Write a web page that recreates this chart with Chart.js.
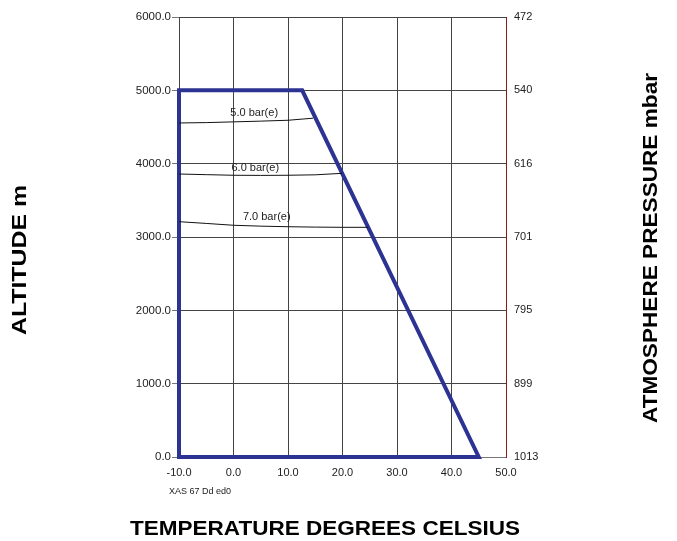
<!DOCTYPE html>
<html>
<head>
<meta charset="utf-8">
<script src="https://cdn.jsdelivr.net/npm/chart.js@4.4.0/dist/chart.umd.min.js"></script>
<style>
html,body{margin:0;padding:0;background:#fff;}
#wrap{width:677px;height:541px;position:relative;}
</style>
</head>
<body>
<div id="wrap"><canvas id="c" width="677" height="541"></canvas></div>
<script>
// ---- data ----
const envelopeTemp = [-10, -10, 12.6, 45, -10];
const envelopeAlt  = [0, 5000, 5000, 0, 0];

const bar5Temp = [-10, -5, 0, 5, 10, 14.6];
const bar5Alt  = [4555, 4560, 4570, 4580, 4592, 4620];
const bar6Temp = [-10, -5, 0, 5, 10, 15, 19.9];
const bar6Alt  = [3859, 3850, 3842, 3840, 3842, 3848, 3868];
const bar7Temp = [-10, -5, 0, 5, 10, 15, 20, 24.7];
const bar7Alt  = [3209, 3185, 3160, 3148, 3140, 3135, 3132, 3132];

const curveNames = ['5.0 bar(e)', '6.0 bar(e)', '7.0 bar(e)'];
const curveLabelTemp = [3.8, 4.0, 6.1];
const curveLabelAlt  = [4687, 3941, 3277];

const xTicks = [-10, 0, 10, 20, 30, 40, 50];
const altTicks = [0, 1000, 2000, 3000, 4000, 5000, 6000];
const pressureLabels = ['1013', '899', '795', '701', '616', '540', '472'];

const xTitle = 'TEMPERATURE DEGREES CELSIUS';
const yTitle = 'ALTITUDE m';
const y2Title = 'ATMOSPHERE PRESSURE mbar';
const footNote = 'XAS 67 Dd ed0';

function pts(xs, ys){ return xs.map((x,i)=>({x:x, y:ys[i]})); }

const FONT = "'Liberation Sans', Arial, sans-serif";

const textPlugin = {
  id: 'texts',
  afterDatasetsDraw(chart){
    const ctx = chart.ctx;
    const xs = chart.scales.x, ys = chart.scales.y;
    ctx.save();
    ctx.font = '11px ' + FONT;
    ctx.fillStyle = '#222';
    ctx.textAlign = 'center';
    ctx.textBaseline = 'middle';
    curveNames.forEach((n,i)=>{
      ctx.fillText(n, xs.getPixelForValue(curveLabelTemp[i]), ys.getPixelForValue(curveLabelAlt[i]));
    });
    ctx.font = '9px ' + FONT;
    ctx.textAlign = 'left';
    ctx.fillStyle = '#222';
    ctx.fillText(footNote, chart.chartArea.left - 10, 492);
    function stretched(txt, cx, cy, rot, targetW){
      ctx.save();
      ctx.translate(cx, cy);
      ctx.rotate(rot);
      ctx.font = 'bold 19.5px ' + FONT;
      const w = ctx.measureText(txt).width;
      ctx.scale(targetW / w, 1);
      ctx.textAlign = 'center';
      ctx.textBaseline = 'middle';
      ctx.fillStyle = '#000';
      ctx.fillText(txt, 0, 0);
      ctx.restore();
    }
    stretched(xTitle, 325, 530, 0, 390);
    stretched(yTitle, 21, 260, -Math.PI/2, 150);
    stretched(y2Title, 652, 248, -Math.PI/2, 350);
    ctx.restore();
  }
};

const thinLine = (data) => ({
  data: data, showLine: true, borderColor: '#111', borderWidth: 1,
  pointRadius: 0, fill: false, tension: 0
});

new Chart(document.getElementById('c'), {
  type: 'scatter',
  data: {
    datasets: [
      thinLine(pts(bar5Temp, bar5Alt)),
      thinLine(pts(bar6Temp, bar6Alt)),
      thinLine(pts(bar7Temp, bar7Alt)),
      {
        data: pts(envelopeTemp, envelopeAlt), showLine: true, clip: false,
        borderColor: '#2c3393', borderWidth: 4, pointRadius: 0, fill: false,
        tension: 0, borderJoinStyle: 'miter', borderCapStyle: 'square'
      }
    ]
  },
  options: {
    responsive: false,
    animation: false,
    devicePixelRatio: 1,
    layout: { padding: { top: 17, left: 0, right: 0, bottom: 0 } },
    plugins: { legend: { display: false }, tooltip: { enabled: false }, title: { display: false } },
    scales: {
      x: {
        type: 'linear', min: -10, max: 50,
        afterBuildTicks: s => { s.ticks = xTicks.map(v => ({value: v})); },
        afterFit: s => { s.height = 84; },
        grid: { color: '#444', lineWidth: 1, drawTicks: false },
        border: { color: '#777', width: 1 },
        ticks: { padding: 9, color: '#222', font: { size: 11, family: FONT }, maxRotation: 0,
                 callback: v => Number(v).toFixed(1) }
      },
      y: {
        type: 'linear', position: 'left', min: 0, max: 6000,
        afterBuildTicks: s => { s.ticks = altTicks.map(v => ({value: v})); },
        afterFit: s => { s.width = 179; },
        grid: { color: '#444', lineWidth: 1, drawTicks: true, tickLength: 7, tickColor: '#777' },
        border: { color: '#444', width: 1 },
        ticks: { padding: 1, color: '#222', font: { size: 11.5, family: FONT },
                 callback: v => Number(v).toFixed(1) }
      },
      y2: {
        type: 'linear', position: 'right', min: 0, max: 6000,
        afterBuildTicks: s => { s.ticks = altTicks.map(v => ({value: v})); },
        afterFit: s => { s.width = 171; },
        grid: { display: false, drawOnChartArea: false, drawTicks: false },
        border: { color: '#8b1a1a', width: 1 },
        ticks: { padding: 8, color: '#222', font: { size: 11, family: FONT },
                 callback: (v) => pressureLabels[altTicks.indexOf(Number(v))] }
      }
    }
  },
  plugins: [textPlugin]
});
</script>
</body>
</html>
